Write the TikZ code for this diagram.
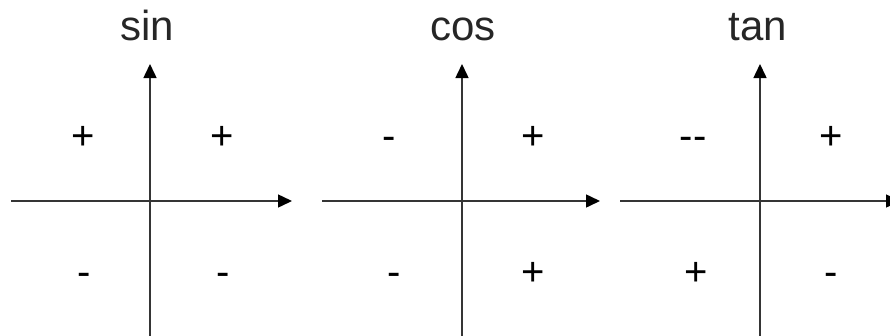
\documentclass[tikz,border=0pt]{standalone}
\usepackage{fontspec}
\setmainfont{Liberation Sans}
\usetikzlibrary{arrows.meta}
\definecolor{axisgray}{HTML}{353535}
\tikzset{
  axis/.style={draw=axisgray, line width=1.5pt, -{Triangle[length=14pt,width=13pt,color=black]}},
  title/.style={anchor=base, inner sep=0pt, font=\fontsize{42}{48}\selectfont, text=black!85},
  sign/.style={anchor=base, inner sep=0pt, font=\fontsize{40}{46}\selectfont, text=black}
}
\begin{document}
\begin{tikzpicture}[x=1pt,y=-1pt]
\useasboundingbox (0,0) rectangle (890,335);
\clip (0,0) rectangle (890,335);
% panel 1: sin
\coordinate (s-b) at (150,336);
\coordinate (s-t) at (150,64);
\coordinate (s-l) at (11,201);
\coordinate (s-r) at (292,201);
\draw[axis] (s-b) -- (s-t);
\draw[axis] (s-l) -- (s-r);
\node[title] (sin) at (147,40) {sin};
\node[sign] (s1) at (83,149) {+};
\node[sign] (s2) at (222,149) {+};
\node[sign] (s3) at (84,285) {-};
\node[sign] (s4) at (223,285) {-};
% panel 2: cos
\coordinate (c-b) at (462,336);
\coordinate (c-t) at (462,64);
\coordinate (c-l) at (322,201);
\coordinate (c-r) at (600,201);
\draw[axis] (c-b) -- (c-t);
\draw[axis] (c-l) -- (c-r);
\node[title] (cos) at (463,40) {cos};
\node[sign] (c1) at (389,149) {-};
\node[sign] (c2) at (533,149) {+};
\node[sign] (c3) at (394,285) {-};
\node[sign] (c4) at (533,285) {+};
% panel 3: tan
\coordinate (t-b) at (760,336);
\coordinate (t-t) at (760,64);
\coordinate (t-l) at (620,201);
\coordinate (t-r) at (900,201);
\draw[axis] (t-b) -- (t-t);
\draw[axis] (t-l) -- (t-r);
\node[title] (tan) at (758,40) {tan};
\node[sign] (t1) at (693,149) {-{}-};
\node[sign] (t2) at (831,149) {+};
\node[sign] (t3) at (696,285) {+};
\node[sign] (t4) at (831,285) {-};
\end{tikzpicture}
\end{document}
